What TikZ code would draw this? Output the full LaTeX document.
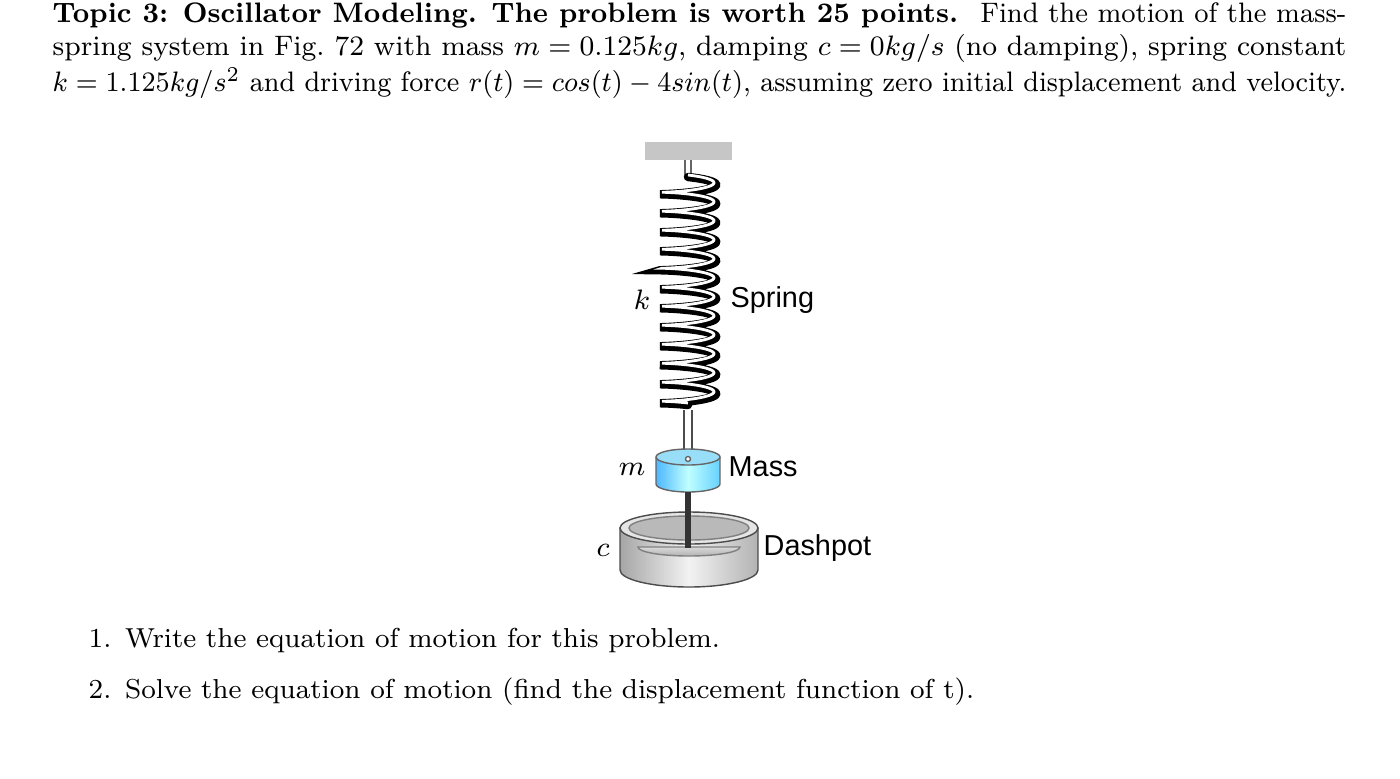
\documentclass[tikz,border=0pt]{standalone}
\usepackage{fontspec}
\newfontfamily\lab{Liberation Sans}
\newcommand{\hl}[1]{\resizebox{12.93cm}{\height}{\fontsize{8}{10}\selectfont #1}}
\begin{document}
\begin{tikzpicture}[x=0.01cm,y=-0.01cm,
  lbl/.style={font=\lab\fontsize{8.2}{10}\selectfont,anchor=west,inner sep=0},
  sym/.style={font=\fontsize{8.5}{10}\selectfont,inner sep=0},
  hline/.style={anchor=base west,inner sep=0}]
\useasboundingbox (0,0) rectangle (1400,778);
\node[hline] (h1) at (52,22) {\hl{\textbf{Topic 3: Oscillator Modeling. The problem is worth 25 points.} \ Find the motion of the mass-}};
\node[hline] (h2) at (52,55) {\hl{spring system in Fig.\ 72 with mass $m=0.125kg$, damping $c=0kg/s$ (no damping), spring constant}};
\node[hline] (h3) at (52,91) {\hl{$k=1.125kg/s^2$ and driving force $r(t)=cos(t)-4sin(t)$, assuming zero initial displacement and velocity.}};
% ceiling
\fill[gray!45] (645,142) rectangle (732,160);
\coordinate (top) at (688,160);
\draw[line width=2.2pt,black!60] (top) -- (688,176);
\draw[white,line width=1pt] (top) -- (688,176);
% spring
\draw[line width=2.4pt,black,line cap=round] plot[domain=0:4320,samples=500] ({688+28*sin(\x)},{180+\x/360*19-3*cos(\x)});
\draw[line width=0.8pt,white] plot[domain=0:4320,samples=500] ({688+26*sin(\x)},{178+\x/360*19-3*cos(\x)});
% rod to mass
\draw[line width=3pt,black!70] (688,410) -- (688,458);
\draw[line width=1.8pt,white] (688,410) -- (688,458);
% mass
\shade[left color=cyan!60!blue!70,right color=cyan!70!blue!60,middle color=cyan!25] (656,457) -- (656,484) arc[start angle=180,end angle=360,x radius=32,y radius=-8] -- (720,457) -- cycle;
\draw[black!60,line width=0.4pt] (656,457) -- (656,484) arc[start angle=180,end angle=360,x radius=32,y radius=-8] -- (720,457);
\fill[cyan!40,draw=black!60,line width=0.4pt] (688,457) ellipse[x radius=32,y radius=8];
\fill[white,draw=black!60] (688,459) circle (2.5);
\node[sym] (m) at (632,469) {$m$};
\node[lbl] (mass) at (728,467) {Mass};
% rod to dashpot
\draw[line width=1.6pt,black!80] (688,492) -- (688,548);
% dashpot
\shade[left color=gray!70,right color=gray!60,middle color=gray!10,draw=black!70] (620,528) -- (620,570) arc[start angle=180,end angle=360,x radius=69,y radius=-17] -- (758,528) -- cycle;
\fill[gray!20,draw=black!70] (689,528) ellipse[x radius=69,y radius=16];
\fill[gray!55,draw=black!50] (689,528) ellipse[x radius=60,y radius=12];
\shade[top color=gray!30,bottom color=gray!60,draw=black!50] (638,547) arc[start angle=180,end angle=360,x radius=51,y radius=-9] -- (740,547) -- cycle;
\draw[line width=1.6pt,black!80] (688,510) -- (688,548);
\node[sym] (c) at (603,550) {$c$};
\node[lbl] (dash) at (763,548) {Dashpot};
\node[sym] (k) at (642,300) {$k$};
\node[lbl] (spring) at (730,300) {Spring};
% list
\node[anchor=west,inner sep=0] (l1) at (88,640) {\fontsize{7.8}{10}\selectfont 1.\enspace Write the equation of motion for this problem.};
\node[anchor=west,inner sep=0] (l2) at (88,692) {\fontsize{7.8}{10}\selectfont 2.\enspace Solve the equation of motion (find the displacement function of t).};
\end{tikzpicture}
\end{document}
